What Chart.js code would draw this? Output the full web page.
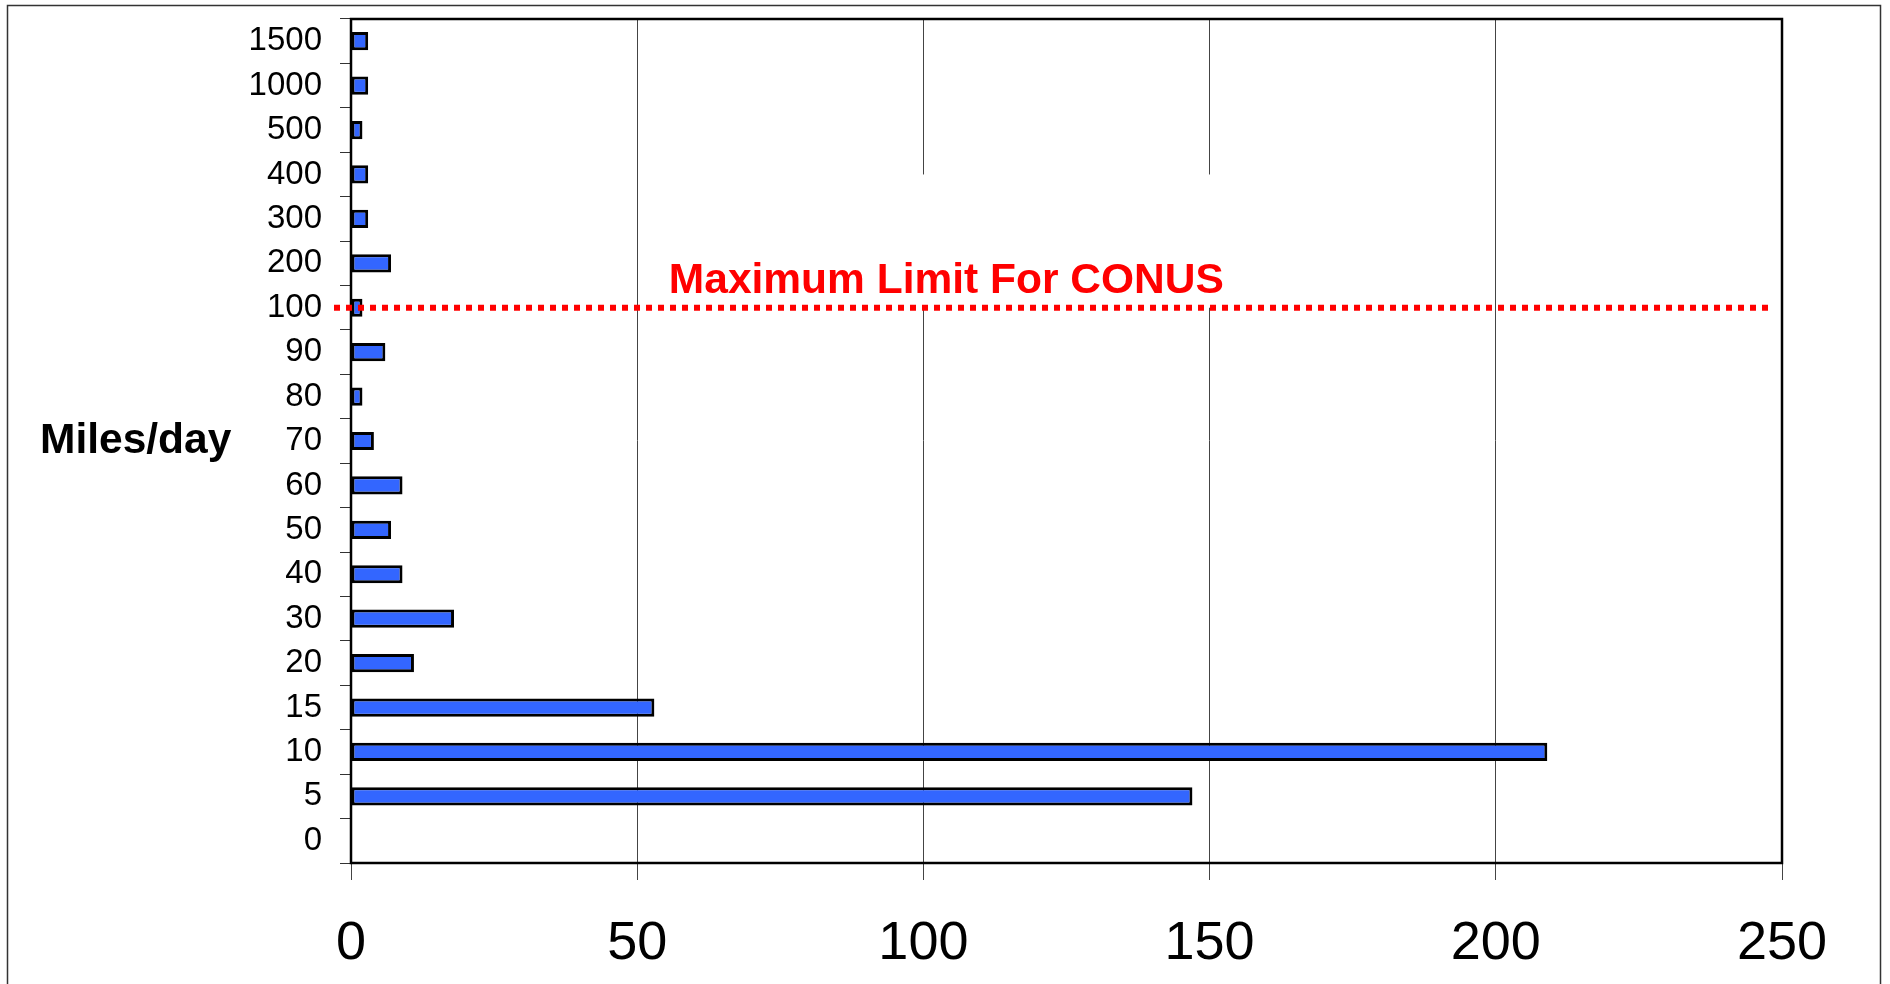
<!DOCTYPE html>
<html>
<head>
<meta charset="utf-8">
<title>Miles/day</title>
<script src="https://cdn.jsdelivr.net/npm/chart.js@4.4.1/dist/chart.umd.min.js"></script>
<style>
  html, body { margin: 0; padding: 0; background: #fff; overflow: hidden; }
  #wrap { width: 1890px; height: 984px; }
</style>
</head>
<body>
<div id="wrap"><canvas id="miles_bar" width="1890" height="984"></canvas></div>
<script>
// categories from bottom to top, as they stand in the picture
var milesLabels = ["0", "5", "10", "15", "20", "30", "40", "50", "60", "70", "80", "90", "100", "200", "300", "400", "500", "1000", "1500"];
var milesCounts = [0, 147, 209, 53, 11, 18, 9, 7, 9, 4, 2, 6, 2, 7, 3, 3, 2, 3, 3];
var xTicks = [0, 50, 100, 150, 200, 250];
var limitLabel = "100";
var limitText = "Maximum Limit For CONUS";
var axisText = "Miles/day";

Chart.defaults.font.family = "'Liberation Sans', Arial, sans-serif";
Chart.defaults.color = "#000";

//draws the CONUS limit, the frame and the side label
var limitPlugin = {
	id: "limitPlugin",
	beforeDatasetsDraw: function(chart) {
		var ctx = chart.ctx;
		var area = chart.chartArea;
		var x = chart.scales.x;
		var y = chart.scales.y;
		var lineY = y.getPixelForValue(milesLabels.indexOf(limitLabel));
		ctx.save();
		// white box under the note hides the grid lines
		var boxTop = y.getPixelForValue(milesLabels.indexOf("400"));
		ctx.fillStyle = "#fff";
		ctx.fillRect(x.getPixelForValue(52), boxTop, x.getPixelForValue(156) - x.getPixelForValue(52), lineY - boxTop);
		// plot frame
		ctx.strokeStyle = "#000";
		ctx.lineWidth = 2.5;
		ctx.strokeRect(area.left, area.top, area.right - area.left, area.bottom - area.top);
		ctx.restore();
	},
	afterDatasetsDraw: function(chart) {
		var ctx = chart.ctx;
		var area = chart.chartArea;
		var x = chart.scales.x;
		var y = chart.scales.y;
		var lineY = y.getPixelForValue(milesLabels.indexOf(limitLabel));
		ctx.save();
		ctx.strokeStyle = "#ff0000";
		ctx.lineWidth = 6;
		ctx.setLineDash([6, 6]);
		ctx.beginPath();
		ctx.moveTo(area.left - 17, lineY);
		ctx.lineTo(area.right - 14, lineY);
		ctx.stroke();
		ctx.setLineDash([]);
		ctx.fillStyle = "#ff0000";
		ctx.font = "bold 42.5px 'Liberation Sans', Arial, sans-serif";
		ctx.textAlign = "center";
		ctx.textBaseline = "alphabetic";
		ctx.fillText(limitText, x.getPixelForValue(104), lineY - 15);

		ctx.fillStyle = "#000";
		ctx.textAlign = "left";
		ctx.textBaseline = "middle";
		ctx.fillText(axisText, 40, (area.top + area.bottom) / 2);
		ctx.restore();
	},
	afterDraw: function(chart) {
		var ctx = chart.ctx;
		ctx.save();
		ctx.strokeStyle = "#333";
		ctx.lineWidth = 1.5;
		ctx.strokeRect(7.5, 5.5, 1873, 1100);
		ctx.restore();
	}
};

var ctx = document.getElementById("miles_bar").getContext("2d");
var milesChart = new Chart(ctx, {
	type: "bar",
	data: {
		labels: milesLabels,
		datasets: [{
			label: axisText,
			data: milesCounts,
			backgroundColor: "#3366ff",
			borderColor: "#000",
			borderWidth: 3,
			borderSkipped: false,
			barPercentage: 0.41,
			categoryPercentage: 1
		}]
	},
	options: {
		indexAxis: "y",
		responsive: false,
		animation: false,
		devicePixelRatio: 1,
		layout: { padding: { top: 19, right: 108, left: 0, bottom: 0 } },
		plugins: { legend: { display: false }, tooltip: { enabled: false } },
		scales: {
			x: {
				min: xTicks[0],
				max: xTicks[xTicks.length - 1],
				ticks: { stepSize: xTicks[1] - xTicks[0], padding: 32, font: { size: 54 }, color: "#000" },
				grid: { color: "#444", lineWidth: 1, tickLength: 17 },
				border: { display: true, color: "#000", width: 2 },
				afterFit: function(scale) { scale.height = 121; }
			},
			y: {
				reverse: true,
				ticks: { padding: 18, font: { size: 33 }, color: "#000", autoSkip: false },
				grid: { drawOnChartArea: false, offset: true, tickLength: 11, color: "#333", lineWidth: 1 },
				border: { display: true, color: "#000", width: 2 },
				afterFit: function(scale) {
					scale.width = 351;
					scale.paddingTop = 0;
					scale.paddingBottom = 0;
				}
			}
		}
	},
	plugins: [limitPlugin]
});
</script>
</body>
</html>
